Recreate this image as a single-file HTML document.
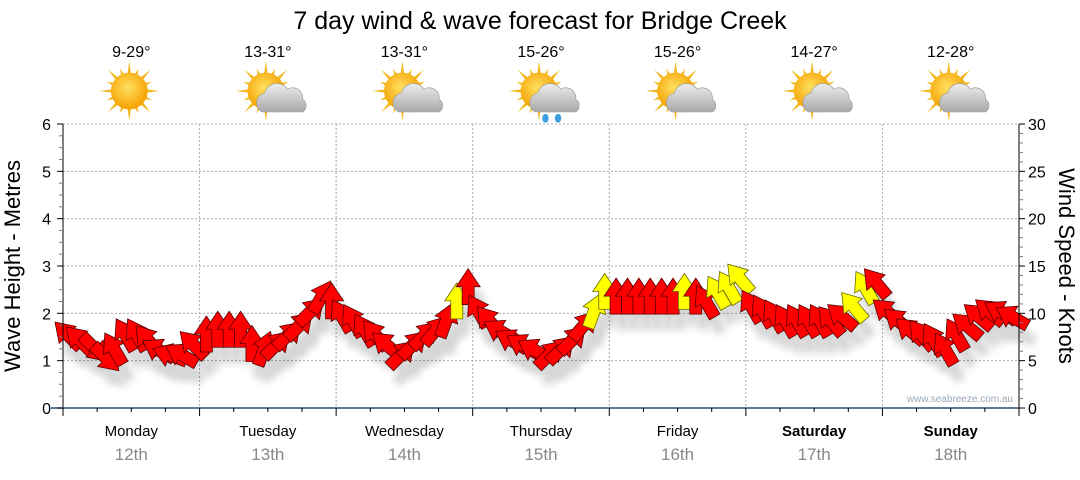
<!DOCTYPE html>
<html><head><meta charset="utf-8"><style>
html,body{margin:0;padding:0;background:#fff;}
body{width:1080px;height:475px;overflow:hidden;font-family:"Liberation Sans",sans-serif;}
</style></head><body>
<svg id="chart" width="1080" height="475" viewBox="0 0 1080 475" xmlns="http://www.w3.org/2000/svg" font-family="Liberation Sans, sans-serif">
<defs>
<radialGradient id="sunG" cx="0.45" cy="0.4" r="0.6"><stop offset="0" stop-color="#ffe060"/><stop offset="1" stop-color="#f5a000"/></radialGradient>
<linearGradient id="cloudG" x1="0" y1="0" x2="0" y2="1"><stop offset="0" stop-color="#eeeeee"/><stop offset="1" stop-color="#a8a8a8"/></linearGradient>
<filter id="shadow" x="-50%" y="-50%" width="200%" height="200%"><feGaussianBlur stdDeviation="4"/></filter>
</defs>
<text x="540" y="29" text-anchor="middle" font-size="25" fill="#000">7 day wind &amp; wave forecast for Bridge Creek</text>
<g id="header"></g>
<g id="grid"></g>
<g id="shadows" opacity="0.16"></g>
<g id="arrows"></g>
<g id="axes"></g>
<text transform="translate(20,266) rotate(-90)" text-anchor="middle" font-size="22" fill="#000">Wave Height - Metres</text>
<text transform="translate(1059,266) rotate(90)" text-anchor="middle" font-size="22" fill="#000">Wind Speed - Knots</text>
<text x="1013" y="402" text-anchor="end" font-size="10" fill="#9aa8b8">www.seabreeze.com.au</text>
</svg>
<script>
const days=["Monday","Tuesday","Wednesday","Thursday","Friday","Saturday","Sunday"];
const dates=["12th","13th","14th","15th","16th","17th","18th"];
const temps=["9-29°","13-31°","13-31°","15-26°","15-26°","14-27°","12-28°"];
const weather=["sun","cloud","cloud","rain","cloud","cloud","cloud"];
const waveTicks=[0,1,2,3,4,5,6];
const windTicks=[0,5,10,15,20,25,30];
const windSpeed=[7.5,7,6.5,5.5,6,7.5,7.5,7,6,5.5,5.5,6.5,
 7.5,8,8,8,6.5,6,6.5,7.5,8.5,10,11.5,11,
 9.5,9,8,7.5,6.5,5.5,6.5,7.5,8,9,11,12.5,
 10,9,8,7,6.5,6,5.5,6,7,8.5,10,12,
 11.5,11.5,11.5,11.5,11.5,11.5,12,11.5,11,12,12.5,13.5,
 10.5,10,9.5,9,9,9,9,9,9.5,10.5,12.5,13,
 10,9,8,7.5,7,6,7.5,8.5,9.5,10,10,9.5];
const windDir=[315,315,135,135,330,330,330,320,300,290,300,315,
 0,0,0,0,0,20,45,45,45,45,30,0,
 330,330,330,320,310,45,45,45,40,20,0,0,
 330,320,300,300,300,300,45,45,45,40,20,0,
 0,0,0,0,0,0,0,0,330,330,330,320,
 330,330,330,330,330,330,330,320,310,320,330,320,
 310,310,310,320,330,330,330,310,310,310,300,300];
const windColor=["r","r","r","r","r","r","r","r","r","r","r","r",
 "r","r","r","r","r","r","r","r","r","r","r","r",
 "r","r","r","r","r","r","r","r","r","r","y","r",
 "r","r","r","r","r","r","r","r","r","r","y","y",
 "r","r","r","r","r","r","y","r","r","y","y","y",
 "r","r","r","r","r","r","r","r","r","y","y","r",
 "r","r","r","r","r","r","r","r","r","r","r","r"];

const NS="http://www.w3.org/2000/svg";
const X0=63,X1=1019,Y0=408,Y1=124;
const dayW=(X1-X0)/7;
function xT(i){return X0+(i+0.6)*dayW/12;}
function yWave(m){return Y0-(Y0-Y1)*m/6;}
function yWind(k){return Y0-(Y0-Y1)*k/30;}
function mk(tag,attrs,parent){const e=document.createElementNS(NS,tag);for(const k in attrs)e.setAttribute(k,attrs[k]);parent.appendChild(e);return e;}
const grid=document.getElementById('grid'),axes=document.getElementById('axes'),header=document.getElementById('header');
waveTicks.forEach(v=>{if(v===0)return;
 const l=mk('line',{x1:X0,x2:X1,y1:yWave(v),y2:yWave(v),stroke:'#aaa','stroke-dasharray':'2,2'},grid);
 
 });
for(let d=1;d<7;d++){
 const l=mk('line',{x1:X0+d*dayW,x2:X0+d*dayW,y1:Y1,y2:Y0,stroke:'#aaa','stroke-dasharray':'2,2'},grid);
 
 }
mk('line',{x1:X0,x2:X0,y1:Y1,y2:Y0+5,stroke:'#000'},axes);
mk('line',{x1:X1,x2:X1,y1:Y1,y2:Y0,stroke:'#000'},axes);
const xa=mk('line',{x1:X0-12,x2:X1,y1:Y0,y2:Y0,stroke:'#1f4e79','stroke-width':1.5},axes);


for(let m=0;m<=24;m++){const y=yWave(m/4);mk('line',{x1:X0-(m%4?4:6),x2:X0,y1:y,y2:y,stroke:m%4?'#777':'#000'},axes);}
for(let k=0;k<=30;k++){const y=yWind(k);mk('line',{x1:X1,x2:X1+(k%5?4:6),y1:y,y2:y,stroke:k%5?'#777':'#000'},axes);}
waveTicks.forEach(v=>{const t=mk('text',{x:X0-12,y:yWave(v)+6,'text-anchor':'end','font-size':16,fill:'#000'},axes);t.textContent=v;
 
 });
windTicks.forEach(v=>{const t=mk('text',{x:X1+9,y:yWind(v)+6,'font-size':16,fill:'#000'},axes);t.textContent=v;
 
 });
for(let q=0;q<=28;q++){const x=X0+q*dayW/4;mk('line',{x1:x,x2:x,y1:Y0,y2:Y0+(q%4?4:8),stroke:'#000'},axes);}
days.forEach((d,i)=>{
 const cx=X0+(i+0.5)*dayW;
 const t=mk('text',{x:cx,y:436,'text-anchor':'middle','font-size':15,fill:'#000','font-weight':(i>=5?'bold':'normal')},axes);t.textContent=d;
 
 
 const t2=mk('text',{x:cx,y:460,'text-anchor':'middle','font-size':17,fill:'#888'},axes);t2.textContent=dates[i];
 
 
 const tt=mk('text',{x:cx,y:57,'text-anchor':'middle','font-size':16,fill:'#000'},header);tt.textContent=temps[i];
 
 
 const g=mk('g',{transform:`translate(${cx-2},91) scale(1.15)`},header);
 
 
 for(let r=0;r<16;r++){const a=r*Math.PI/8,L=r%2?21:26;
  mk('polygon',{points:`${Math.cos(a-0.12)*14},${Math.sin(a-0.12)*14} ${Math.cos(a)*L},${Math.sin(a)*L} ${Math.cos(a+0.12)*14},${Math.sin(a+0.12)*14}`,fill:'#f3b820'},g);}
 mk('circle',{cx:0,cy:0,r:16,fill:'url(#sunG)'},g);
 if(weather[i]!=='sun'){
  const c=mk('g',{transform:'translate(10,5) scale(1.1)'},g);
  mk('path',{d:'M-12,12 a8,8 0 0 1 2,-15 a10,10 0 0 1 18,-3 a8,8 0 0 1 12,8 a6,6 0 0 1 0,10 z',fill:'url(#cloudG)',stroke:'#999','stroke-width':0.5},c);
  if(weather[i]==='rain'){mk('ellipse',{cx:-4,cy:17,rx:2.5,ry:3.5,fill:'#3b9de0'},c);mk('ellipse',{cx:6,cy:17,rx:2.5,ry:3.5,fill:'#3b9de0'},c);}
 }
});
const arrG=document.getElementById('arrows'),shG=document.getElementById('shadows');
const shape='M-6,15 L6,15 L6,-3 L12,-3 L0,-21 L-12,-3 L-6,-3 Z';
windSpeed.forEach((k,i)=>{
 const x=xT(i),y=yWind(k);
 const s=mk('path',{d:shape,transform:`translate(${x+7},${y+16}) rotate(${windDir[i]})`,fill:'#000',filter:'url(#shadow)'},shG);
 
 
 const p=mk('path',{d:shape,transform:`translate(${x},${y}) rotate(${windDir[i]})`,fill:windColor[i]==='y'?'#ffff00':'#ff0000',stroke:windColor[i]==='y'?'#6b6b00':'#5a0000','stroke-width':0.8},arrG);
 
 
});
</script>
</body></html>
